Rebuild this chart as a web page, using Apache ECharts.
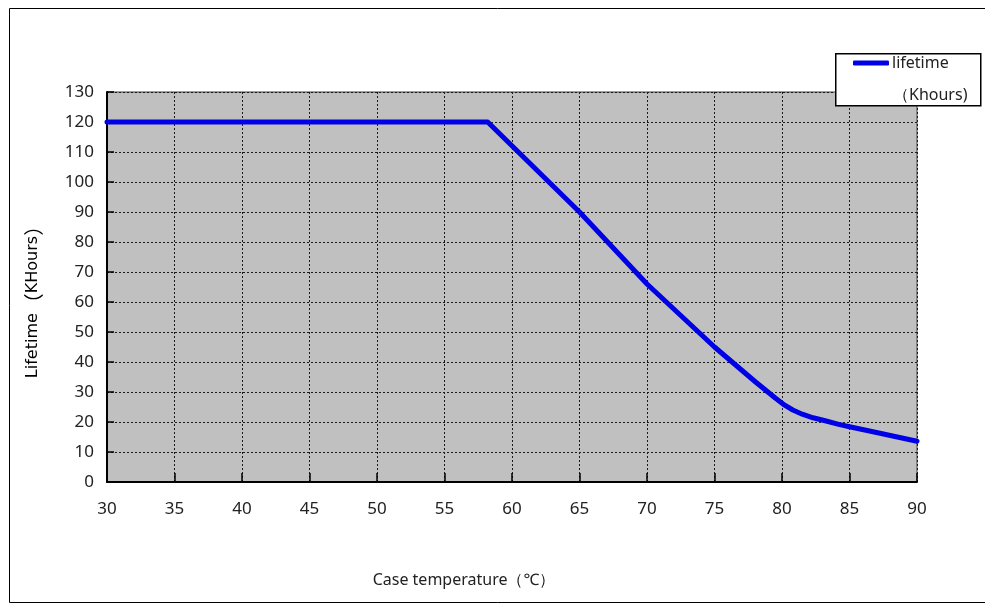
<!DOCTYPE html>
<html>
<head>
<meta charset="utf-8">
<script src="https://cdn.jsdelivr.net/npm/echarts@6/dist/echarts.min.js"></script>
<style>
html,body{margin:0;padding:0;background:#fff;}
#chart{width:985px;height:603px;}
</style>
</head>
<body>
<div id="chart"></div>
<script>
// Data
const temperatures = [30, 58.2, 65, 70, 75, 78, 79.5, 80.2, 80.8, 81.5, 82.3, 83.2, 84.2, 85, 87, 90];
const lifetimeKh   = [120, 120, 90, 66, 45, 33.5, 28, 25.6, 24, 22.6, 21.4, 20.4, 19.2, 18.4, 16.5, 13.6];
const seriesName = 'lifetime';
const legendUnit = '（Khours)';
const xAxisTitle = 'Case temperature（℃）';
const yAxisTitleWords = ['Lifetime', '（', 'KHours', '）'];

const font = "'Noto Sans','DejaVu Sans',sans-serif";

const chart = echarts.init(document.getElementById('chart'));
chart.setOption({
  animation: false,
  backgroundColor: '#ffffff',
  grid: {
    left: 107, top: 92, right: 68, bottom: 121,
    show: true, backgroundColor: '#c0c0c0', borderColor: '#444', borderWidth: 1
  },
  legend: {
    show: true,
    left: 853, top: 55,
    padding: 0,
    itemWidth: 36, itemHeight: 5, itemGap: 4,
    icon: 'roundRect',
    textStyle: { fontFamily: font, fontSize: 16, color: '#222', padding: [0,0,0,-2] },
    data: [seriesName],
    z: 20
  },
  xAxis: {
    type: 'value', min: 30, max: 90, interval: 5,
    axisLine: { show: true, lineStyle: { color: '#000', width: 2 } },
    axisTick: { show: true, inside: true, length: 9, lineStyle: { color: '#000', width: 1.5 } },
    axisLabel: { margin: 19, fontFamily: font, fontSize: 17, color: '#222' },
    splitLine: { show: true, lineStyle: { color: '#1a1a1a', type: [2, 2], width: 1 } }
  },
  yAxis: {
    type: 'value', min: 0, max: 130, interval: 10,
    axisLine: { show: true, lineStyle: { color: '#000', width: 2 } },
    axisTick: { show: true, inside: true, length: 7, lineStyle: { color: '#000', width: 1.5 } },
    axisLabel: { margin: 13, fontFamily: font, fontSize: 17, color: '#222' },
    splitLine: { show: true, lineStyle: { color: '#1a1a1a', type: [2, 2], width: 1 } }
  },
  series: [{
    name: seriesName,
    type: 'line',
    data: temperatures.map((t, i) => [t, lifetimeKh[i]]),
    showSymbol: false,
    smooth: false,
    lineStyle: { color: '#0000e6', width: 5, join: 'round', cap: 'round' },
    itemStyle: { color: '#0000e6' },
    z: 5
  }],
  graphic: [
    { type: 'rect', left: 7, top: 6, z: -10, silent: true,
      shape: { width: 1000, height: 594 },
      style: { fill: 'none', stroke: '#000', lineWidth: 1 } },
    { type: 'rect', left: 835, top: 53, z: 15, silent: true,
      shape: { width: 145, height: 52 },
      style: { fill: '#fff', stroke: '#000', lineWidth: 1.5 } },
    { type: 'text', left: 893, top: 87, z: 21, silent: true,
      style: { text: legendUnit, fontFamily: font, fontSize: 16, fill: '#222' } },
    { type: 'text', x: 33, y: 297, rotation: Math.PI / 2, z: 21, silent: true,
      style: {
        text: '{a|' + yAxisTitleWords[0] + '}{p|' + yAxisTitleWords[1] + '}{a|' + yAxisTitleWords[2] + '}{p|' + yAxisTitleWords[3] + '}',
        align: 'center', verticalAlign: 'middle',
        rich: {
          a: { fontFamily: "'DejaVu Sans',sans-serif", fontSize: 16, color: '#222' },
          p: { fontFamily: "'Noto Sans CJK SC',sans-serif", fontSize: 20, color: '#222' }
        }
      } },
    { type: 'text', x: 464, y: 580, z: 21, silent: true,
      style: { text: xAxisTitle, fontFamily: font, fontSize: 16, fill: '#222',
               align: 'center', verticalAlign: 'middle' } }
  ]
});
</script>
</body>
</html>
